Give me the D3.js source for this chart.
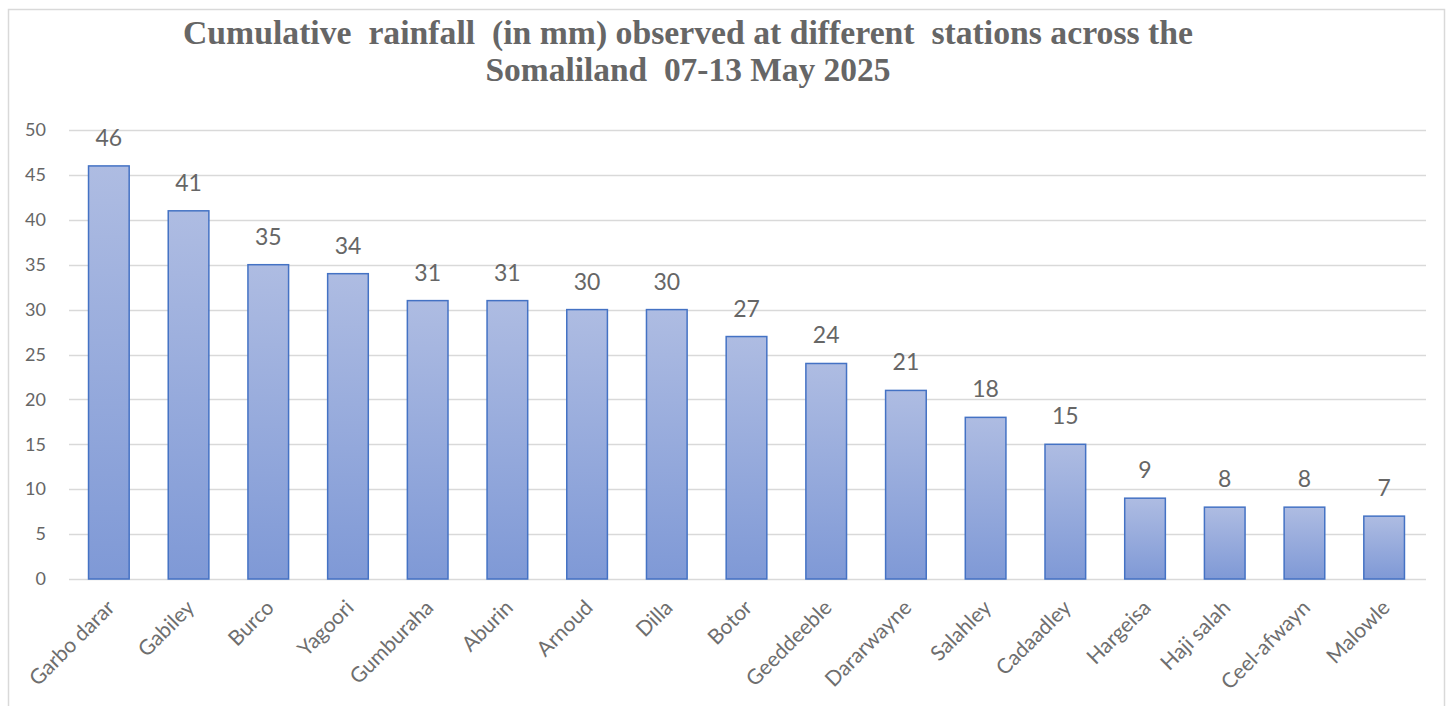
<!DOCTYPE html>
<html><head><meta charset="utf-8">
<script src="https://cdn.jsdelivr.net/npm/d3@7"></script>
<style>body{margin:0;background:#fff;} svg{display:block;}</style>
</head><body>
<svg id="c" width="1448" height="706"></svg>
<script>
const stations = ["Garbo darar","Gabiley","Burco","Yagoori","Gumburaha","Aburin","Arnoud","Dilla","Botor","Geeddeeble","Dararwayne","Salahley","Cadaadley","Hargeisa","Haji salah","Ceel-afwayn","Malowle"];
const rainfall = [46,41,35,34,31,31,30,30,27,24,21,18,15,9,8,8,7];
const yTicks = [0,5,10,15,20,25,30,35,40,45,50];
const titleLines = ["Cumulative  rainfall  (in mm) observed at different  stations across the","Somaliland  07-13 May 2025"];

(function(){
const svg = d3.select("#c");
const pl = 69, pr = 1424, pt = 130, pb = 579;
const x = d3.scaleBand().domain(stations).range([pl, pr]).paddingInner(0.49).paddingOuter(0.245);
const y = d3.scaleLinear().domain([0,50]).range([pb, pt]);
const font = "Lato, 'Open Sans', sans-serif";

// frame
svg.append("rect").attr("x",8.5).attr("y",9.5).attr("width",1436).attr("height",700).attr("fill","none").attr("stroke","#d9d9d9").attr("stroke-width",1.5);

const defs = svg.append("defs");
const g = defs.append("linearGradient").attr("id","bg").attr("x1",0).attr("y1",0).attr("x2",0).attr("y2",1);
g.append("stop").attr("offset","0%").attr("stop-color","#aebce2");
g.append("stop").attr("offset","100%").attr("stop-color","#7f99d6");

// gridlines
svg.append("g").selectAll("line").data(yTicks).join("line")
  .attr("x1",pl).attr("x2",1426).attr("y1",d=>Math.round(y(d))+0.5).attr("y2",d=>Math.round(y(d))+0.5)
  .attr("stroke","#d9d9d9").attr("stroke-width",1.3);

// y axis labels
const yAxis = d3.axisLeft(y).tickValues(yTicks).tickSize(0).tickPadding(0);
const ya = svg.append("g").attr("transform","translate(46,0)").call(yAxis);
ya.select(".domain").remove();
ya.selectAll("text").attr("fill","#666666").attr("font-family",font).attr("font-size",18);

// bars
svg.append("g").selectAll("rect").data(rainfall).join("rect")
  .attr("x",(d,i)=>x(stations[i])).attr("width",x.bandwidth())
  .attr("y",d=>y(d)).attr("height",d=>pb-y(d))
  .attr("fill","url(#bg)").attr("stroke","#4472c4").attr("stroke-width",1.5);

// value labels
svg.append("g").selectAll("text").data(rainfall).join("text")
  .attr("x",(d,i)=>x(stations[i])+x.bandwidth()/2).attr("y",d=>y(d)-20)
  .attr("text-anchor","middle").attr("fill","#666666")
  .attr("font-family",font).attr("font-size",23)
  .text(d=>d);

// x axis labels
const xAxis = d3.axisBottom(x).tickSize(0).tickPadding(0);
const xa = svg.append("g").attr("transform",`translate(0,${pb})`).call(xAxis);
xa.select(".domain").remove();
xa.selectAll("text").attr("fill","#6e6e6e").attr("font-family",font).attr("font-size",21)
  .attr("text-anchor","end").attr("dy",0).attr("dx",0)
  .attr("transform","translate(7,30) rotate(-45)");

// title
svg.append("g").selectAll("text").data(titleLines).join("text")
  .attr("x",688).attr("y",(d,i)=>44+i*37)
  .attr("text-anchor","middle").attr("fill","#666666")
  .attr("font-family","'Liberation Serif', 'DejaVu Serif', serif").attr("font-weight","bold").attr("font-size",33)
  .style("white-space","pre")
  .attr("textLength",(d,i)=>i===0?1010:405).attr("lengthAdjust","spacingAndGlyphs")
  .text(d=>d);
})();
</script>
</body></html>
